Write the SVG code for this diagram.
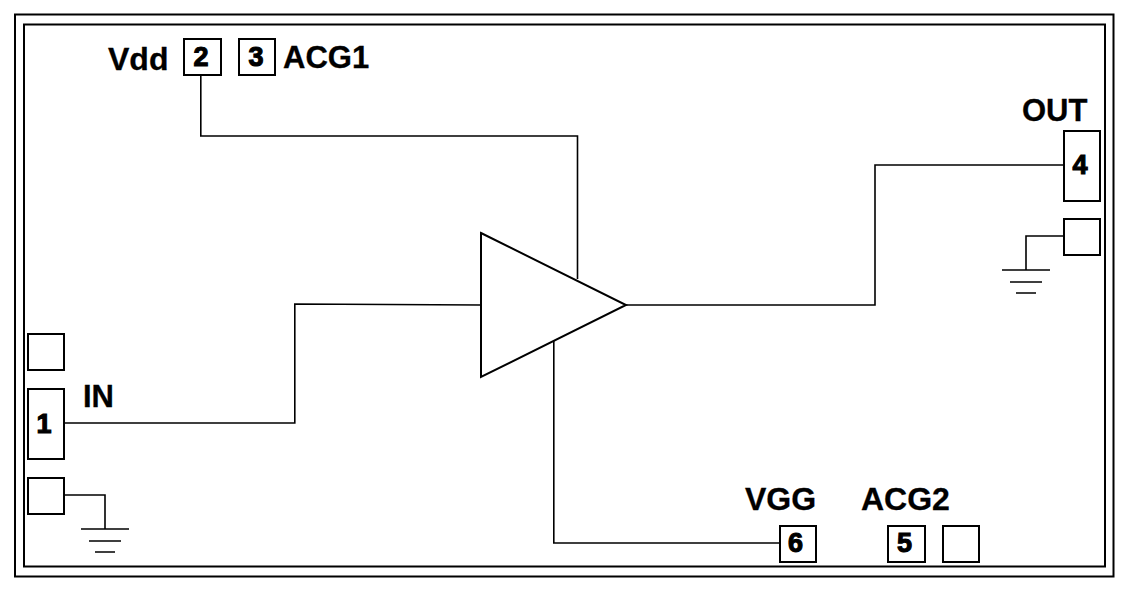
<svg xmlns="http://www.w3.org/2000/svg" width="1131" height="592" viewBox="0 0 1131 592">
<style>
.b{fill:#fff;stroke:#000;stroke-width:2}
.f{fill:none;stroke:#000;stroke-width:2}
.l{fill:none;stroke:#000;stroke-width:1.6}
text{font-family:"Liberation Sans",Arial,sans-serif;font-weight:bold;font-size:31px;fill:#000;stroke:#000;stroke-width:.3}
.w{font-size:32px}
.n{font-size:27px;text-anchor:middle;stroke-width:1.1}
</style>
<rect width="1131" height="592" fill="#fff"/>
<g id="frame"><rect class="f" x="15" y="14.500" width="1098.500" height="562"/><rect class="f" x="24" y="24.500" width="1081" height="542"/></g>
<g id="connectors">
<path class="l" d="M200.800 75V136H577.500V279"/>
<path class="l" d="M64 423H294.800V304L481 305"/>
<path class="l" d="M626 305H875V165H1064"/>
<path class="l" d="M553.800 341V543H780"/>
<path class="l" d="M1064 236H1026V270"/>
<path class="l" d="M64 495H105V529"/>
</g>
<g id="amp"><path class="b" d="M481 233L626 305L481 377Z"/></g>
<g id="pin2"><rect class="b" x="184" y="39" width="37" height="36"/><text class="n" x="201" y="66">2</text></g>
<g id="pin3"><rect class="b" x="239" y="39" width="36" height="36"/><text class="n" x="256" y="66">3</text></g>
<g id="pin4"><rect class="b" x="1064" y="131" width="36" height="70"/><text class="n" x="1080" y="174">4</text></g>
<g id="padR"><rect class="b" x="1064" y="219" width="36" height="36"/></g>
<g id="padL1"><rect class="b" x="28" y="334" width="36" height="36"/></g>
<g id="pin1"><rect class="b" x="28" y="389" width="36" height="70"/><text class="n" x="44" y="433">1</text></g>
<g id="padL2"><rect class="b" x="28" y="478" width="36" height="36"/></g>
<g id="pin6"><rect class="b" x="780" y="526" width="36" height="36"/><text class="n" x="795.500" y="552">6</text></g>
<g id="pin5"><rect class="b" x="888" y="526" width="37" height="36"/><text class="n" x="904.500" y="552">5</text></g>
<g id="padB"><rect class="b" x="943" y="526" width="36" height="36"/></g>
<g id="gnd1"><path class="l" d="M1002 270H1050M1010 282H1042M1016 293H1036"/></g>
<g id="gnd2"><path class="l" d="M81 529H129M89 541H121M95 552H115"/></g>
<g id="labels">
<text class="w" x="108" y="70">Vdd</text>
<text x="283" y="68">ACG1</text>
<text x="1022" y="120.500">OUT</text>
<text x="83" y="407">IN</text>
<text class="w" x="745" y="510">VGG</text>
<text class="w" x="861" y="510">ACG2</text>
</g>
</svg>
